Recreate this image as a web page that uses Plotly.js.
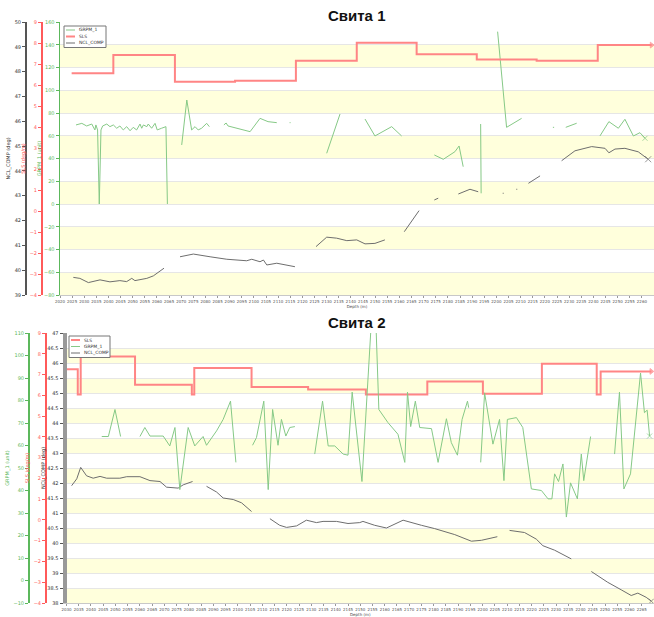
<!DOCTYPE html>
<html>
<head>
<meta charset="utf-8">
<script src="https://cdn.plot.ly/plotly-3.0.1.min.js"></script>
<style>html,body{margin:0;padding:0;background:#fff;}#chart{width:654px;height:617px;}</style>
</head>
<body>
<div id="chart"></div>
<script>
// ---------- Свита 1 ----------
const depthTopSLS = [2024.8, 2042.0, 2067.4, 2092.2, 2117.3, 2142.4, 2167.1, 2191.9, 2216.6, 2241.8, 2264.0];
const slsTop = [6.56, 7.43, 6.16, 6.20, 7.16, 8.01, 7.46, 7.22, 7.16, 7.90, 7.90];

const depthTopGRPM = [
  2026.6, 2029.0, 2031.0, 2033.1, 2034.4, 2034.8, 2035.5, 2036.2, 2036.9, 2037.6, 2039.3, 2040.6, 2042.0, 2043.4, 2044.7, 2046.1, 2047.5, 2048.9, 2050.2, 2051.6, 2053.0, 2053.7, 2054.4, 2055.8, 2056.4, 2057.8, 2059.2, 2060.1, 2061.9, 2063.7, 2064.3, null,
  2070.2, 2072.3, 2074.3, 2075.7, 2077.0, 2078.4, 2080.5, 2081.6, null,
  2087.6, 2088.5, 2089.3, 2098.4, 2102.5, 2105.8, 2109.4, null,
  2114.7, 2115.1, null,
  2130.0, 2132.6, 2135.5, null,
  2145.8, 2149.9, 2156.8, 2160.9, null,
  2174.4, 2178.1, 2182.9, 2184.6, 2186.3, null,
  2193.5, 2193.7, null,
  2200.5, 2204.2, 2210.4, null,
  2223.3, 2223.8, null,
  2228.6, 2233.1, null,
  2242.7, 2246.4, 2250.3, 2253.0, 2256.5, 2259.2, 2261.3
];
const grpmTop = [
  69.5, 70.9, 68.6, 70.3, 65.1, 69.5, 65.1, 0, 65.1, 68.6, 70.3, 68.0, 69.5, 66.6, 68.6, 65.1, 68.0, 64.4, 67.4, 65.1, 70.3, 66.6, 69.5, 68.0, 70.3, 66.6, 70.9, 65.1, 66.6, 68.0, 0, null,
  51.9, 91.4, 65.1, 68.0, 65.1, 66.6, 70.9, 68.0, null,
  69.5, 71.2, 68.6, 63.6, 75.3, 72.4, 71.5, null,
  71.5, 71.5, null,
  44.6, 60.7, 79.1, null,
  74.7, 59.8, 68.0, 59.8, null,
  43.1, 39.3, 46.0, 51.0, 32.8, null,
  70.3, 9.4, null,
  151.5, 67.4, 75.3, null,
  67.4, 67.4, null,
  67.4, 71.0, null,
  59.8, 72.4, 66.6, 74.5, 59.8, 62.7, 57.8
];

const depthTopNCL = [
  2025.5, 2028.2, 2031.7, 2036.5, 2040.6, 2044.7, 2047.5, 2049.6, 2050.9, 2055.8, 2058.5, 2062.9, null,
  2069.5, 2075.0, 2081.9, 2088.8, 2097.0, 2099.1, 2102.5, 2103.9, 2105.3, 2109.4, 2116.9, null,
  2125.6, 2130.0, 2134.1, 2138.3, 2142.4, 2145.8, 2149.9, 2154.0, null,
  2162.0, 2168.1, null,
  2174.4, 2176.0, null,
  2184.3, 2189.1, 2192.5, null,
  2202.6, 2203.0, null,
  2208.2, 2208.6, null,
  2213.2, 2218.0, null,
  2226.9, 2232.4, 2239.3, 2244.8, 2246.4, 2248.9, 2253.0, 2258.5, 2262.6
];
const nclTop = [
  39.71, 39.67, 39.50, 39.61, 39.53, 39.58, 39.54, 39.67, 39.58, 39.67, 39.77, 40.08, null,
  40.54, 40.65, 40.54, 40.44, 40.38, 40.44, 40.34, 40.41, 40.21, 40.28, 40.14, null,
  40.95, 41.33, 41.29, 41.19, 41.22, 41.06, 41.08, 41.22, null,
  41.55, 42.40, null,
  42.83, 42.90, null,
  43.07, 43.26, 43.16, null,
  43.10, 43.10, null,
  43.26, 43.26, null,
  43.50, 43.80, null,
  44.41, 44.81, 44.98, 44.91, 44.73, 44.88, 44.91, 44.77, 44.47
];

// ---------- Свита 2 ----------
const depthBotSLS = [2030.1, 2034.6, 2035.8, 2058.0, 2081.2, 2082.2, 2105.6, 2128.7, 2152.3, 2177.4, 2200.1, 2224.2, 2246.6, 2248.2, 2268.9];
const slsBot = [7.26, 6.04, 7.87, 6.51, 6.04, 7.31, 6.40, 6.28, 6.04, 6.67, 6.08, 7.52, 6.04, 7.15, 7.15];

const depthBotGRPM = [
  2044.4, 2047.1, 2049.8, 2052.1, null,
  2060.0, 2062.0, 2064.1, 2069.5, 2072.2, 2074.3, 2076.3, 2079.7, 2082.4, 2085.8, 2087.2, 2091.3, 2094.0, 2097.0, 2099.2, null,
  2106.0, 2107.6, 2110.6, 2112.4, 2114.2, 2116.4, 2117.8, 2119.6, 2121.2, 2123.3, null,
  2131.4, 2134.6, 2136.9, 2139.6, 2143.0, 2145.0, 2146.7, 2150.7, 2155.7, 2157.6, 2161.3, 2165.4, 2168.2, 2169.3, 2170.6, 2172.5, 2174.3, 2179.1, 2181.8, 2185.2, 2187.2, 2189.7, 2191.6, 2193.8, 2194.3, null,
  2199.2, 2200.8, 2204.2, 2206.9, 2208.7, 2210.1, 2213.8, 2216.4, 2219.9, 2224.0, 2226.7, 2228.3, 2229.4, 2231.0, 2232.8, 2234.2, 2235.9, 2238.7, 2240.3, 2241.3, 2244.1, null,
  2253.9, 2255.9, 2257.7, 2260.4, 2264.5, 2266.1, 2267.2, 2268.2
];
const grpmBot = [
  64.0, 64.0, 76.0, 64.0, null,
  64.0, 68.0, 64.2, 64.2, 59.8, 68.0, 40.4, 68.0, 59.8, 64.0, 60.1, 66.5, 71.6, 79.7, 52.5, null,
  60.1, 63.5, 79.7, 40.4, 76.0, 60.1, 71.6, 64.2, 68.0, 68.4, null,
  56.2, 79.7, 59.8, 59.8, 56.2, 55.7, 83.7, 44.0, 136.6, 76.0, 70.2, 65.0, 52.5, 83.7, 68.4, 79.7, 68.0, 67.5, 52.5, 71.9, 61.3, 55.7, 71.6, 79.7, 76.8, null,
  52.5, 83.4, 60.6, 71.6, 44.4, 71.6, 72.4, 68.0, 40.7, 40.0, 36.3, 36.3, 47.4, 44.0, 51.8, 28.2, 43.4, 36.3, 56.2, 44.4, 64.0, null,
  56.2, 83.7, 40.7, 47.4, 92.2, 74.6, 75.7, 64.2
];

const depthBotNCL = [
  2032.1, 2034.2, 2035.8, 2038.2, 2040.9, 2043.7, 2046.4, 2051.8, 2054.6, 2060.0, 2064.1, 2068.2, 2070.9, 2075.6, 2077.7, 2081.5, null,
  2087.2, 2091.3, 2094.0, 2098.1, 2101.5, 2105.6, null,
  2113.1, 2117.1, 2119.9, 2124.0, 2128.0, 2132.1, 2134.8, 2140.3, 2145.0, 2149.8, 2151.1, 2155.9, 2160.7, 2167.5, 2175.0, 2180.4, 2188.6, 2195.4, 2199.5, 2206.0, null,
  2211.0, 2217.1, 2221.9, 2224.6, 2229.4, 2236.2, null,
  2244.4, 2251.1, 2256.6, 2260.7, 2263.4, 2266.8, 2268.9
];
const nclBot = [
  41.91, 42.14, 42.52, 42.24, 42.16, 42.22, 42.16, 42.16, 42.21, 42.21, 42.08, 42.05, 41.86, 41.83, 41.94, 42.05, null,
  41.89, 41.70, 41.50, 41.45, 41.34, 41.05, null,
  40.81, 40.59, 40.52, 40.57, 40.76, 40.68, 40.72, 40.72, 40.65, 40.68, 40.72, 40.59, 40.50, 40.76, 40.59, 40.48, 40.28, 40.06, 40.09, 40.21, null,
  40.42, 40.35, 40.13, 39.91, 39.76, 39.47, null,
  39.05, 38.69, 38.44, 38.25, 38.33, 38.19, 38.06
];

// legend entries, in the order each panel lists them
const legendTop = ['GRPM_1', 'SLS', 'NCL_COMP'];
const legendBot = ['SLS', 'GRPM_1', 'NCL_COMP'];

// band edges (alternating background)
const topBands = [[120, 140], [80, 100], [40, 60], [0, 20], [-40, -20], [-80, -60]];
const botBands = [[38, 38.5], [39, 39.5], [40, 40.5], [41, 41.5], [42, 42.5], [43, 43.5], [44, 44.5], [45, 45.5], [46, 46.5]];

const GREEN = '#5cb85c', RED = '#ff5a5a', GRAY = '#6e6e6e';
const LGREEN = '#86c986', LRED = '#ff8585';
const seriesStyle = {
  'GRPM_1': {color: LGREEN, width: 1},
  'SLS': {color: LRED, width: 2},
  'NCL_COMP': {color: GRAY, width: 1}
};

// marker only on the final sample of a series (end-of-track symbol)
function endMarker(arr, symbol, color, size) {
  return {symbol: symbol, color: color, size: arr.map((v, i) => i === arr.length - 1 ? size : 0),
          line: {color: color, width: 1}};
}

const traces = [
  {x: depthTopGRPM, y: grpmTop, xaxis: 'x', yaxis: 'y', name: 'GRPM_1', mode: 'lines+markers', connectgaps: false,
   line: {color: LGREEN, width: 1}, marker: endMarker(grpmTop, 'x-thin', LGREEN, 5)},
  {x: depthTopSLS, y: slsTop, xaxis: 'x', yaxis: 'y2', name: 'SLS', mode: 'lines+markers',
   line: {color: LRED, width: 2, shape: 'hv'}, marker: endMarker(slsTop, 'triangle-right', LRED, 5)},
  {x: depthTopNCL, y: nclTop, xaxis: 'x', yaxis: 'y3', name: 'NCL_COMP', mode: 'lines+markers', connectgaps: false,
   line: {color: GRAY, width: 1}, marker: endMarker(nclTop, 'x-thin', GRAY, 6)},
  {x: depthBotSLS, y: slsBot, xaxis: 'x2', yaxis: 'y5', name: 'SLS', mode: 'lines+markers',
   line: {color: LRED, width: 2, shape: 'hv'}, marker: endMarker(slsBot, 'triangle-right', LRED, 5)},
  {x: depthBotGRPM, y: grpmBot, xaxis: 'x2', yaxis: 'y6', name: 'GRPM_1', mode: 'lines+markers', connectgaps: false,
   line: {color: LGREEN, width: 1}, marker: endMarker(grpmBot, 'x-thin', LGREEN, 5)},
  {x: depthBotNCL, y: nclBot, xaxis: 'x2', yaxis: 'y4', name: 'NCL_COMP', mode: 'lines+markers', connectgaps: false,
   line: {color: GRAY, width: 1}, marker: endMarker(nclBot, 'x-thin', GRAY, 5)}
];

const W = 654, H = 617;
const px = v => v / W;
const py = v => (H - v) / H;

const shapes = [];
const annotations = [];
topBands.forEach(b => shapes.push({type: 'rect', xref: 'x domain', yref: 'y', x0: 0, x1: 1, y0: b[0], y1: b[1],
  fillcolor: '#ffffdc', line: {width: 0}, layer: 'below'}));
botBands.forEach(b => shapes.push({type: 'rect', xref: 'x2 domain', yref: 'y4', x0: 0, x1: 1, y0: b[0], y1: b[1],
  fillcolor: '#ffffdc', line: {width: 0}, layer: 'below'}));

// compact legends (box + line sample + label)
function addLegend(names, left, top, w, rowH) {
  shapes.push({type: 'rect', xref: 'paper', yref: 'paper', x0: px(left), x1: px(left + w),
    y0: py(top + rowH * names.length + 2), y1: py(top), fillcolor: '#fff', line: {color: '#777', width: 1}, layer: 'above'});
  names.forEach((n, i) => {
    const yc = top + 4 + i * rowH;
    const st = seriesStyle[n];
    shapes.push({type: 'line', xref: 'paper', yref: 'paper', x0: px(left + 2), x1: px(left + 11), y0: py(yc), y1: py(yc),
      line: {color: st.color, width: st.width}, layer: 'above'});
    annotations.push({text: n, xref: 'paper', yref: 'paper', x: px(left + 13), y: py(yc), xanchor: 'left', yanchor: 'middle',
      showarrow: false, font: {size: 4.5, color: '#333', family: 'DejaVu Sans'}});
  });
}
addLegend(legendTop, 64, 26, 42, 6.5);
addLegend(legendBot, 69, 336, 41, 6.5);

annotations.push(
  {text: '<b>Свита 1</b>', xref: 'paper', yref: 'paper', x: px(356), y: py(15), xanchor: 'center', yanchor: 'middle',
   showarrow: false, font: {family: 'Liberation Sans, Arial, sans-serif', size: 15, color: '#111'}},
  {text: '<b>Свита 2</b>', xref: 'paper', yref: 'paper', x: px(356), y: py(322), xanchor: 'center', yanchor: 'middle',
   showarrow: false, font: {family: 'Liberation Sans, Arial, sans-serif', size: 15, color: '#111'}}
);

function yax(color, extra) {
  return Object.assign({
    showline: true, linecolor: color, linewidth: 1.5, ticks: 'outside', ticklen: 3, tickcolor: color,
    tickfont: {color: color, size: 5, family: 'DejaVu Sans'}, showgrid: false, zeroline: false, fixedrange: true
  }, extra);
}
function xax(extra) {
  return Object.assign({
    dtick: 5, ticks: 'outside', ticklen: 2, tickcolor: '#999', tickfont: {size: 4, color: '#555', family: 'DejaVu Sans'},
    showline: true, linecolor: '#c8c8c8', linewidth: 1, showgrid: false, zeroline: false, tickangle: 0
  }, extra);
}

const layout = {
  width: W, height: H, margin: {l: 0, r: 0, t: 0, b: 0},
  paper_bgcolor: '#fff', plot_bgcolor: '#fff',
  font: {family: 'DejaVu Sans, sans-serif', size: 5, color: '#333'},
  showlegend: false,
  xaxis: xax({domain: [px(60), 1], range: [2020, 2265], tick0: 2020, anchor: 'y',
    title: {text: 'Depth (m)', font: {size: 4, color: '#444'}, standoff: 1}}),
  yaxis: yax(GREEN, {domain: [py(295), py(22)], range: [-80, 160], dtick: 20, anchor: 'x',
    showgrid: true, gridcolor: '#e6e6e6', gridwidth: 1,
    title: {text: 'GRPM_1 (unit)', font: {color: GREEN, size: 5}, standoff: 2}}),
  yaxis2: yax(RED, {overlaying: 'y', anchor: 'free', position: px(41), side: 'left', range: [-4, 9], dtick: 1,
    title: {text: 'SLS (deg/m)', font: {color: RED, size: 5}, standoff: 2}}),
  yaxis3: yax('#333', {overlaying: 'y', anchor: 'free', position: px(25), side: 'left', range: [39, 50], dtick: 1,
    linecolor: '#555', tickcolor: '#555', tickfont: {color: '#333', size: 5},
    title: {text: 'NCL_COMP (deg)', font: {color: '#333', size: 5}, standoff: 2}}),
  xaxis2: xax({domain: [px(66.5), 1], range: [2030, 2270], tick0: 2030, anchor: 'y4',
    title: {text: 'Depth (m)', font: {size: 4, color: '#444'}, standoff: 0}}),
  yaxis4: yax('#999', {domain: [py(603), py(333)], range: [38, 47], dtick: 0.5, anchor: 'x2', linewidth: 4,
    tickcolor: '#555', tickfont: {color: '#333', size: 5},
    showgrid: true, gridcolor: '#e6e6e6', gridwidth: 1,
    title: {text: 'NCL_COMP (deg)', font: {color: '#333', size: 5}, standoff: 2}}),
  yaxis5: yax(RED, {overlaying: 'y4', anchor: 'free', position: px(45), side: 'left', range: [-4, 9], dtick: 1,
    title: {text: 'SLS (deg/m)', font: {color: RED, size: 5}, standoff: 2}}),
  yaxis6: yax(GREEN, {overlaying: 'y4', anchor: 'free', position: px(28), side: 'left', range: [-10, 110], dtick: 10,
    title: {text: 'GRPM_1 (unit)', font: {color: GREEN, size: 5}, standoff: 2}}),
  shapes: shapes,
  annotations: annotations
};

Plotly.newPlot('chart', traces, layout, {displayModeBar: false, staticPlot: true});
</script>
</body>
</html>
